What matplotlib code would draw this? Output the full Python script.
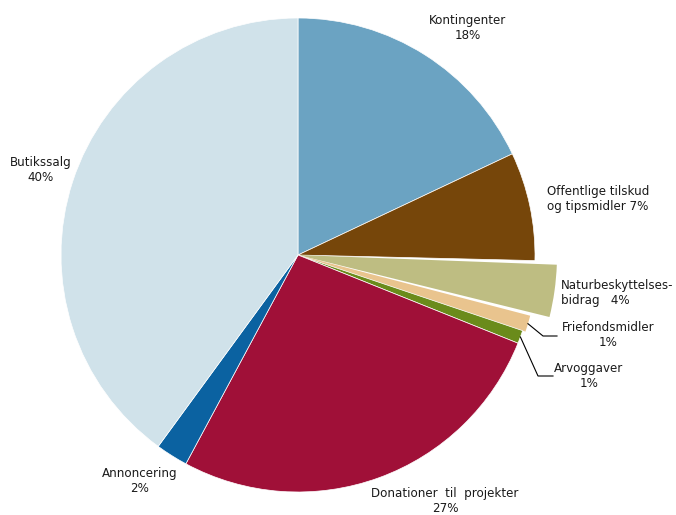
import numpy as np
import matplotlib
matplotlib.use("Agg")
import matplotlib.pyplot as plt

labels = ["Kontingenter\n18%", "Offentlige tilskud\nog tipsmidler 7%",
          "Naturbeskyttelses-\nbidrag   4%", "Friefondsmidler\n1%",
          "Arvoggaver\n1%", "Donationer  til  projekter\n27%",
          "Annoncering\n2%", "Butikssalg\n40%"]
values = [18.0, 7.4, 3.7, 1.1, 0.9, 26.8, 2.2, 40.0]
colors = ["#6BA3C2", "#76460A", "#BEBD82", "#E9C48E",
          "#6A8B1B", "#A01038", "#0B62A1", "#D0E2EA"]
pull_out = [0, 0, 22, 3, 0, 0, 0, 0]   # extra radius in pixels
gap = [0, 0, 0.8, 0, 0, 0, 0, 0]       # degrees trimmed on each side

W, H = 676, 515
fig = plt.figure(figsize=(W / 100, H / 100), dpi=100)
ax = fig.add_axes([0, 0, 1, 1])

cx, cy, R = 298, H - 255, 237
wedges, _ = ax.pie(values, colors=colors, startangle=90, counterclock=False,
                   center=(cx, cy), radius=R,
                   wedgeprops=dict(edgecolor="white", linewidth=0.5),
                   frame=True)
# pulled-out slices: bigger radius, small angular gap
for w, p, g in zip(wedges, pull_out, gap):
    if p:
        w.set_radius(R + p)
        w.set_linewidth(0)
    if g:
        w.set_theta1(w.theta1 + g)
        w.set_theta2(w.theta2 - g)

ax.set_xlim(0, W)
ax.set_ylim(0, H)
ax.set_aspect("equal")
ax.axis("off")

fs = 8.6
# label placement (pixel coords from top-left), alignment
pos = [(468, 28, "center"), (598, 199, "center"), (561, 293, "left"),
       (608, 335, "center"), (589, 376, "center"), (445, 501, "center"),
       (140, 481, "center"), (41, 170, "center")]
for lab, (x, y, ha) in zip(labels, pos):
    ax.text(x, H - y, lab, ha=ha, va="center", fontsize=fs,
            color="#1a1a1a", linespacing=1.25)

# leader lines for the two small slices
for i, (kx, ky, ex) in zip([3, 4], [(543, 336, 557), (538, 376, 553)]):
    w = wedges[i]
    mid = np.deg2rad((w.theta1 + w.theta2) / 2)
    sx = w.center[0] + w.r * np.cos(mid)
    sy = w.center[1] + w.r * np.sin(mid)
    ax.plot([sx, kx, ex], [sy, H - ky, H - ky], color="black", lw=0.8)

fig.savefig("out.png", dpi=100, facecolor="white")
